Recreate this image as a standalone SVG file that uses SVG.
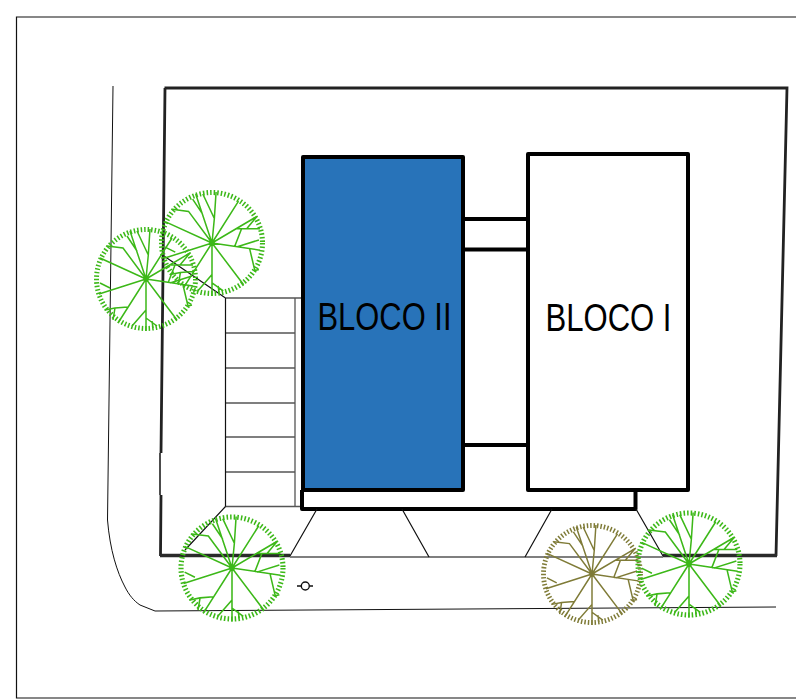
<svg xmlns="http://www.w3.org/2000/svg" width="796" height="699" viewBox="0 0 796 699">
<style>
.thin{fill:none;stroke:#111;stroke-width:1.200}
.gray{fill:none;stroke:#555;stroke-width:1.300}
.wall{fill:none;stroke:#000;stroke-width:4;stroke-linejoin:round}
.site{fill:none;stroke:#222;stroke-width:2.800}
.heavy{fill:none;stroke:#2a2a2a;stroke-width:3.500}
.crown{fill:none;stroke-width:5;stroke-dasharray:1.500 2}
.limbs{fill:none;stroke-width:1.500}
.green{stroke:#3cb818}
.olive{stroke:#7f7b37}
.lbl{font-family:"Liberation Sans",Arial,sans-serif;font-size:38px;fill:#000}
</style>
<defs>
<g id="tree">
<circle class="crown" r="49.500"/>
<path class="limbs" d="M0 0L2.300 -24L4 -50M2.300 -24L-9 -48M0 0L-16 -48M-9 -28L-19 -43M0 0L-23 -31L-39 -33M0 0L-46 -21M0 0L-47 15M-36 9L-46 4M0 0L-28 44M-18 28L-31 29L-41 31M-31 29L-33 41M0 0L0 52M0 31L-14 47M0 39L11 47M6 42L7 49M0 0L31 41M0 0L47 7M24 4L46 -3M37 6L42 27L46 26M0 0L44 -26M24 -14L47 -14M34 -14L44 -26M29 -14L22 4M0 0L26 -41"/>
<circle r="2" fill="none" stroke-width="1.500"/>
</g>
</defs>
<g id="frame"><path class="thin" d="M796 17H16.500V698H796"/></g>
<g id="site">
<path class="thin" style="stroke-width:1" d="M113 86L107.500 520C110 550 117 572 125 587C129 595 134 601 140 605L155 611L776 607"/>
<path class="site" d="M164.500 88H787L776 556"/>
<path class="site" d="M165 88L161 453M161 495L160.500 556"/>
<path class="thin" style="stroke-width:1.500" d="M160 453V495"/>
<path class="heavy" d="M160 555.500H290M663 555.500H777"/>
<path class="gray" d="M290 557H663"/>
</g>
<g id="parking">
<path class="gray" d="M225.500 298H302M225.500 333H295M225.500 368H295M225.500 403H295M225.500 437H295M225.500 472H295M225.500 506.500H302M295 298V506.500"/>
<path class="thin" d="M225.500 298V506.500M225.500 506.500L185 550M225.500 298L164 256"/>
</g>
<g id="connectors">
<path class="wall" d="M463 219H528M463 249.500H528M463 445H528"/>
<path class="wall" d="M302 490V509H635.500V490"/>
<path class="thin" d="M317 509L290 556M402 509L429 557M552 509L525 557M636 509L663 556"/>
</g>
<g id="bloco-ii">
<rect class="wall" x="303" y="157" width="160" height="333" style="fill:#2873b9"/>
<text class="lbl" x="317.500" y="330" textLength="134" lengthAdjust="spacingAndGlyphs">BLOCO II</text>
</g>
<g id="bloco-i">
<rect class="wall" x="528" y="154" width="160" height="336" style="fill:#fff"/>
<text class="lbl" x="545.500" y="331" textLength="126" lengthAdjust="spacingAndGlyphs">BLOCO I</text>
</g>
<g id="lamp">
<path class="thin" style="stroke-width:1.300" d="M297 586H301M309.500 586H313"/>
<circle cx="305.300" cy="586" r="4" fill="#fff" stroke="#111" stroke-width="1.400"/>
</g>
<g id="trees">
<use id="tree-1" href="#tree" class="green" transform="translate(146 279)"/>
<use id="tree-2" href="#tree" class="green" transform="translate(212 243) scale(1.02)"/>
<use id="tree-3" href="#tree" class="green" transform="translate(232 568) scale(1.03)"/>
<use id="tree-4" href="#tree" class="olive" transform="translate(592 574) scale(.98)"/>
<use id="tree-5" href="#tree" class="green" transform="translate(689 564) scale(1.03)"/>
</g>
</svg>
